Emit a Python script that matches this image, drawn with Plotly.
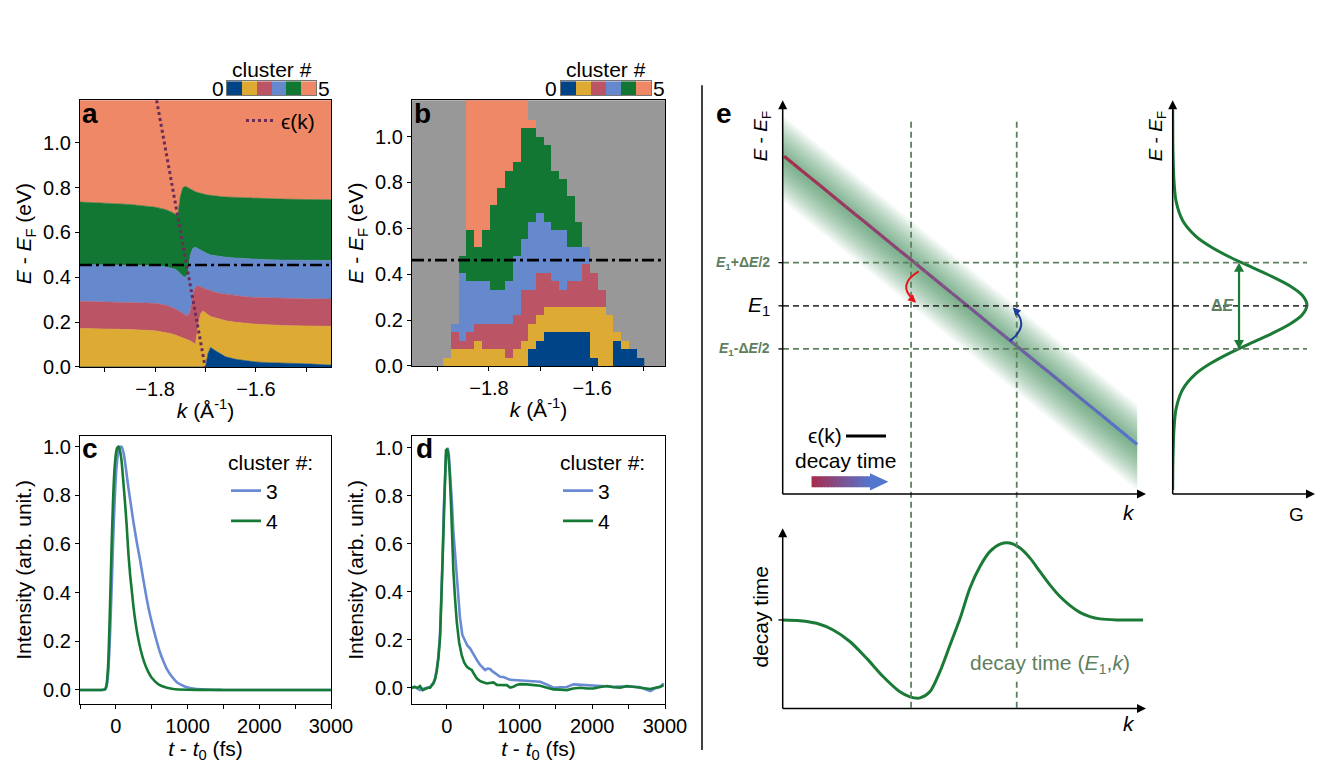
import numpy as np
import plotly.graph_objects as go

W, H = 1329, 779          # reference picture size: all positions below are given in its pixels
PAGE_W, PAGE_H = 1351, 792  # page size of the figure (photo is scaled to 1329x779)
FONT = "Liberation Sans, Arial, Helvetica, DejaVu Sans, sans-serif"

# ---------------------------------------------------------------- data
cluster_ids = [0, 1, 2, 3, 4, 5]
cluster_colors = ["#004488", "#DDAA33", "#BB5566", "#6688CC", "#117733", "#EE8866"]

# panel a : cluster boundaries (top edge of clusters 0..4) vs k
a_k = [-1.95, -1.90, -1.85, -1.80, -1.78, -1.77, -1.76, -1.755, -1.75, -1.745, -1.74, -1.735,
       -1.73, -1.725, -1.72, -1.715, -1.71, -1.705, -1.70, -1.695, -1.69, -1.68, -1.67, -1.66,
       -1.64, -1.62, -1.60, -1.575, -1.55, -1.50, -1.45]
a_top0 = [0, 0, 0, 0, 0, 0, 0, 0, 0, 0, 0, 0, 0, 0, 0, 0, 0, 0, 0,
          0.060, 0.087, 0.072, 0.057, 0.045, 0.034, 0.027, 0.022, 0.019, 0.018, 0.014, 0.008]
a_top1 = [0.172, 0.170, 0.167, 0.161, 0.154, 0.149, 0.142, 0.138, 0.134, 0.129, 0.124, 0.120,
          0.116, 0.109, 0.100, 0.176, 0.236, 0.250, 0.243, 0.233, 0.225, 0.218, 0.210, 0.206,
          0.199, 0.194, 0.191, 0.188, 0.185, 0.183, 0.181]
a_top2 = [0.293, 0.291, 0.288, 0.284, 0.276, 0.269, 0.258, 0.253, 0.248, 0.240, 0.233, 0.228,
          0.250, 0.325, 0.355, 0.363, 0.358, 0.352, 0.348, 0.344, 0.340, 0.333, 0.328, 0.325,
          0.318, 0.313, 0.310, 0.308, 0.306, 0.304, 0.303]
a_top3 = [0.457, 0.456, 0.455, 0.452, 0.447, 0.443, 0.436, 0.428, 0.418, 0.405, 0.400, 0.415,
          0.500, 0.530, 0.534, 0.528, 0.520, 0.514, 0.508, 0.504, 0.500, 0.496, 0.493, 0.490,
          0.486, 0.483, 0.480, 0.478, 0.477, 0.475, 0.475]
a_top4 = [0.736, 0.731, 0.725, 0.713, 0.703, 0.694, 0.680, 0.676, 0.760, 0.800, 0.806, 0.800,
          0.792, 0.787, 0.782, 0.778, 0.774, 0.771, 0.769, 0.767, 0.765, 0.762, 0.760, 0.758,
          0.756, 0.754, 0.751, 0.750, 0.749, 0.747, 0.746]
a_Emax = 1.19
eps_k = [-1.797, -1.7007]
eps_E = [1.19, 0.0]
a_cut = 0.455

# panel b : per k-column cumulative top row of clusters 0..5 (grey above)
b_k0, b_dk, b_dE = -1.8885, 0.015, 0.037
b_col_tops = [
    [0, 1, 1, 1, 1, 1], [0, 2, 4, 5, 5, 5], [0, 2, 3, 11, 13, 13], [0, 2, 4, 10, 16, 32],
    [0, 3, 5, 10, 14, 32], [0, 2, 5, 10, 16, 32], [0, 2, 5, 9, 19, 32], [0, 2, 5, 9, 21, 32],
    [0, 1, 5, 10, 23, 32], [0, 2, 6, 13, 24, 32], [0, 3, 9, 15, 28, 32], [2, 5, 9, 17, 28, 29],
    [3, 6, 11, 18, 27, 27], [4, 7, 11, 17, 26, 26], [4, 7, 10, 16, 23, 23], [4, 7, 9, 16, 22, 22],
    [4, 7, 10, 14, 20, 20], [4, 7, 10, 14, 17, 17], [4, 7, 12, 14, 14, 14], [1, 7, 11, 11, 11, 11],
    [0, 7, 9, 9, 9, 9], [0, 6, 6, 6, 6, 6], [3, 4, 4, 4, 4, 4], [2, 3, 3, 3, 3, 3],
    [2, 2, 2, 2, 2, 2], [1, 1, 1, 1, 1, 1]]
b_rows = 32
b_cut = 0.461

# panel c : fitted traces
c4_t = [-500, -200, -150, -130, -110, -100, -80, -60, -40, -20, 0, 20, 40, 60, 80, 100, 125, 150,
        175, 200, 225, 250, 300, 350, 400, 450, 500, 600, 700, 800, 1000, 1500, 3000]
c4_I = [0, 0, 0.003, 0.02, 0.09, 0.16, 0.36, 0.58, 0.77, 0.90, 0.97, 0.995, 1.0, 0.98, 0.94, 0.87,
        0.78, 0.68, 0.56, 0.47, 0.40, 0.33, 0.23, 0.16, 0.11, 0.075, 0.05, 0.022, 0.01, 0.004,
        0.001, 0, 0]
c3_t = [-500, -200, -150, -130, -110, -90, -70, -50, -30, -10, 10, 30, 50, 80, 110, 140, 175, 210,
        245, 290, 340, 385, 430, 475, 525, 570, 615, 660, 710, 780, 850, 920, 990, 1100, 1250,
        1500, 3000]
c3_I = [0, 0, 0.002, 0.015, 0.06, 0.16, 0.32, 0.50, 0.68, 0.82, 0.92, 0.97, 0.995, 1.0, 0.97, 0.91,
        0.83, 0.76, 0.69, 0.61, 0.53, 0.45, 0.375, 0.31, 0.25, 0.20, 0.155, 0.12, 0.087, 0.055,
        0.032, 0.02, 0.011, 0.005, 0.002, 0.0, 0.0]

# panel d : measured traces
d4_t = [-480, -440, -400, -367, -330, -300, -260, -229, -183, -160, -138, -115, -92, -75, -55, -40,
        -23, -10, 0, 10, 23, 40, 60, 75, 92, 115, 138, 170, 206, 240, 275, 310, 344, 380, 413,
        450, 482, 550, 600, 642, 690, 734, 780, 826, 872, 917, 960, 1009, 1101, 1200, 1284, 1380,
        1468, 1560, 1651, 1740, 1835, 1930, 2018, 2110, 2202, 2290, 2385, 2477, 2570, 2661,
        2730, 2798, 2870, 2936, 2980]
d4_I = [0.0, 0.003, 0.0, 0.007, -0.01, -0.005, 0.0, 0.0, 0.018, 0.035, 0.067, 0.12, 0.206, 0.35,
        0.554, 0.76, 0.944, 0.99, 0.993, 0.99, 0.97, 0.90, 0.76, 0.62, 0.485, 0.37, 0.276, 0.19,
        0.136, 0.105, 0.088, 0.08, 0.074, 0.055, 0.039, 0.03, 0.025, 0.018, 0.02, 0.022, 0.012,
        0.011, 0.012, 0.011, 0.001, 0.004, 0.012, 0.015, 0.014, 0.012, 0.008, 0.0, -0.007,
        -0.008, -0.01, -0.003, 0.0, -0.003, -0.003, 0.003, 0.007, 0.002, 0.0, 0.007, 0.003, 0.0,
        -0.003, -0.005, 0.0, 0.004, 0.011]
d3_t = [-480, -440, -400, -367, -330, -300, -260, -229, -183, -160, -138, -115, -92, -75, -55, -40,
        -23, -10, 0, 14, 30, 46, 70, 92, 115, 138, 160, 183, 215, 252, 285, 321, 355, 390, 425,
        459, 495, 528, 560, 596, 630, 665, 700, 734, 780, 826, 870, 917, 1000, 1101, 1200, 1284,
        1380, 1468, 1560, 1651, 1743, 1835, 1927, 2020, 2110, 2200, 2294, 2400, 2480, 2569,
        2650, 2720, 2798, 2870, 2936, 2982]
d3_I = [0.0, 0.004, -0.004, -0.01, -0.005, -0.003, 0.0, 0.003, 0.02, 0.04, 0.075, 0.13, 0.22, 0.36,
        0.56, 0.75, 0.92, 0.97, 0.98, 1.0, 0.97, 0.90, 0.78, 0.65, 0.55, 0.457, 0.37, 0.29, 0.22,
        0.192, 0.175, 0.164, 0.145, 0.13, 0.11, 0.095, 0.085, 0.074, 0.08, 0.078, 0.068, 0.06,
        0.052, 0.046, 0.045, 0.039, 0.033, 0.032, 0.03, 0.03, 0.028, 0.025, 0.013, 0.0, 0.002,
        0.003, 0.014, 0.012, 0.011, 0.009, 0.008, 0.006, 0.004, 0.005, 0.006, 0.004, 0.003,
        -0.004, -0.014, -0.002, 0.004, 0.018]

# panel e : schematic (arbitrary units)
e_line_k = [0.04, 9.83]
e_line_E = [8.65, 1.27]
e_E1, e_dE = 4.82, 2.21
e_k_marks = [3.56, 6.49]
e_decay_k = [0.0, 0.48, 0.94, 1.40, 1.87, 2.33, 2.79, 3.25, 3.53, 3.81, 4.08, 4.36, 4.64, 4.92,
             5.19, 5.47, 5.75, 6.03, 6.30, 6.58, 6.86, 7.13, 7.41, 7.69, 7.97, 8.24, 8.52, 8.80,
             9.26, 10.0]
e_decay_v = [5.0, 4.96, 4.81, 4.43, 3.77, 2.83, 1.79, 0.94, 0.66, 0.60, 0.94, 2.08, 3.58, 5.09,
             6.79, 8.02, 8.87, 9.28, 9.34, 9.06, 8.49, 7.74, 6.98, 6.32, 5.81, 5.43, 5.19, 5.06,
             5.0, 5.0]
g_E = [9.85, 9.0, 8.5, 8.0, 7.5, 7.0, 6.6, 6.34, 6.09, 5.84, 5.59, 5.34, 5.09, 4.84, 4.59, 4.34,
       4.09, 3.84, 3.59, 3.34, 3.08, 2.68, 2.18, 1.68, 1.18, 0.68, 0.1]
g_G = [0.0, 0.001, 0.004, 0.01, 0.025, 0.075, 0.173, 0.28, 0.413, 0.568, 0.727, 0.868, 0.965, 1.0,
       0.965, 0.868, 0.727, 0.568, 0.413, 0.28, 0.173, 0.075, 0.025, 0.01, 0.004, 0.001, 0.0]

# ---------------------------------------------------------------- geometry helpers (pixels)
def PX(x):
    return x / W


def PY(y):
    return 1 - y / H


# schematic axes: pixel position of data origin & scale
E_X0, E_XS = 782.7, 36.06      # k -> px
E_Y0, E_YS = 492.7, 38.94      # E -> py (main & G)
L_Y0, L_YS = 706.7, 17.67      # decay -> py (lower)
G_X0, G_XS = 1172.7, 134.26    # G -> px

GREEN = "#1a7a36"
DGREEN = "#5f8060"
C3 = "#6a8bd3"
C4 = "#157a35"
TS = 20   # tick label size
FS = 21   # title / text size

fig = go.Figure()

# ---------------- panel a (stacked regions)
base = [0.0] * len(a_k)
fig.add_trace(go.Scatter(x=a_k, y=base, mode="lines", line=dict(width=0), showlegend=False,
                         hoverinfo="skip", xaxis="x", yaxis="y"))
tops = [a_top0, a_top1, a_top2, a_top3, a_top4, [a_Emax] * len(a_k)]
for cid, top in zip(cluster_ids, tops):
    col = cluster_colors[cid]
    fig.add_trace(go.Scatter(x=a_k, y=top, mode="lines", fill="tonexty", fillcolor=col,
                             line=dict(width=0.6, color=col), showlegend=False, hoverinfo="skip",
                             xaxis="x", yaxis="y"))
fig.add_trace(go.Scatter(x=eps_k, y=eps_E, mode="lines", name="ϵ(k)",
                         line=dict(color="#6b2c58", width=3, dash="dot"),
                         showlegend=True, legend="legend", xaxis="x", yaxis="y"))

# ---------------- panel b (grid)
nb = len(b_col_tops)
zb = np.full((b_rows, nb), np.nan)
for c, tp in enumerate(b_col_tops):
    lo = 0
    for cid, hi in zip(cluster_ids, tp):
        zb[lo:hi, c] = cid
        lo = max(lo, hi)
bx = [b_k0 + b_dk * (i + 0.5) for i in range(nb)]
by = [b_dE * (j + 0.5) for j in range(b_rows)]
cs = []
for i, col in enumerate(cluster_colors):
    cs.append([i / 6, col])
    cs.append([(i + 1) / 6, col])
fig.add_trace(go.Heatmap(x=bx, y=by, z=zb, colorscale=cs, zmin=-0.5, zmax=5.5, showscale=False,
                         hoverongaps=False, xaxis="x2", yaxis="y2"))

# colour bars
for xa, ya in (("x8", "y8"), ("x9", "y9")):
    fig.add_trace(go.Heatmap(x=cluster_ids, y=[0], z=[cluster_ids], colorscale=cs, zmin=-0.5,
                             zmax=5.5, showscale=False, xaxis=xa, yaxis=ya, hoverinfo="skip"))

# ---------------- panel c / d
fig.add_trace(go.Scatter(x=c3_t, y=c3_I, mode="lines", name="3",
                         line=dict(color=C3, width=2.6, shape="spline", smoothing=0.6),
                         legend="legend2", xaxis="x3", yaxis="y3"))
fig.add_trace(go.Scatter(x=c4_t, y=c4_I, mode="lines", name="4",
                         line=dict(color=C4, width=2.6, shape="spline", smoothing=0.6),
                         legend="legend2", xaxis="x3", yaxis="y3"))
fig.add_trace(go.Scatter(x=d3_t, y=d3_I, mode="lines", name="3", line=dict(color=C3, width=2.6),
                         legend="legend3", xaxis="x4", yaxis="y4"))
fig.add_trace(go.Scatter(x=d4_t, y=d4_I, mode="lines", name="4", line=dict(color=C4, width=2.6),
                         legend="legend3", xaxis="x4", yaxis="y4"))

# ---------------- panel e main
slope = (e_line_E[1] - e_line_E[0]) / (e_line_k[1] - e_line_k[0])
kb = [0.0, e_line_k[1]]
Eb = [e_line_E[0] + slope * (k - e_line_k[0]) - 0.08 for k in kb]
for h in np.linspace(1.1, 0.06, 24):
    fig.add_trace(go.Scatter(x=[kb[0], kb[1], kb[1], kb[0], kb[0]],
                             y=[Eb[0] + h, Eb[1] + h, Eb[1] - h, Eb[0] - h, Eb[0] + h],
                             mode="lines", fill="toself", fillcolor="rgba(40,130,60,0.03)",
                             line=dict(width=0), showlegend=False, hoverinfo="skip",
                             xaxis="x5", yaxis="y5"))
cA = np.array([168, 44, 76])
cB = np.array([84, 118, 206])
nseg = 40
ks = np.linspace(e_line_k[0], e_line_k[1], nseg + 1)
Es = np.interp(ks, e_line_k, e_line_E)
for i in range(nseg):
    f = (i + 0.5) / nseg
    c = (cA * (1 - f) + cB * f).astype(int)
    fig.add_trace(go.Scatter(x=ks[i:i + 2], y=Es[i:i + 2], mode="lines",
                             line=dict(color=f"rgb({c[0]},{c[1]},{c[2]})", width=3.2),
                             showlegend=False, hoverinfo="skip", xaxis="x5", yaxis="y5"))

# lower schematic
fig.add_trace(go.Scatter(x=e_decay_k, y=e_decay_v, mode="lines",
                         line=dict(color=GREEN, width=3, shape="spline", smoothing=0.8),
                         showlegend=False, hoverinfo="skip", xaxis="x6", yaxis="y6"))
# gaussian
fig.add_trace(go.Scatter(x=g_G, y=g_E, mode="lines",
                         line=dict(color=GREEN, width=3, shape="spline", smoothing=0.8),
                         showlegend=False, hoverinfo="skip", xaxis="x7", yaxis="y7"))

# ---------------------------------------------------------------- axes
tickfont = dict(size=TS, family=FONT, color="black")
titlefont = dict(size=FS, family=FONT, color="black")
ax_common = dict(showgrid=False, zeroline=False, showline=True, linecolor="black", linewidth=1.3,
                 mirror=True, ticks="outside", ticklen=4, tickwidth=1.2, tickcolor="black",
                 tickfont=tickfont)
hid = dict(visible=False, fixedrange=True)

ktit = dict(text="<i>k</i> (Å<sup>-1</sup>)", font=titlefont, standoff=4)
Etit = dict(text="<i>E</i> - <i>E</i><sub>F</sub> (eV)", font=titlefont, standoff=5)
ttit = dict(text="<i>t</i> - <i>t</i><sub>0</sub> (fs)", font=titlefont, standoff=4)
Itit = dict(text="Intensity (arb. unit.)", font=titlefont, standoff=5)
k_major = [-1.8, -1.6]
k_major_txt = ["−1.8", "−1.6"]
k_minor = [-1.9, -1.7, -1.5]
Evals = [0, 0.2, 0.4, 0.6, 0.8, 1.0]
Etext = ["0.0", "0.2", "0.4", "0.6", "0.8", "1.0"]
t_major = [0, 1000, 2000, 3000]
t_minor = [-500, 500, 1500, 2500]
minor_k = dict(tickvals=k_minor, ticks="outside", ticklen=4, tickwidth=1.2, tickcolor="black")
minor_t = dict(tickvals=t_minor, ticks="outside", ticklen=4, tickwidth=1.2, tickcolor="black")
cb_ax = dict(showticklabels=False, ticks="", showgrid=False, zeroline=False, showline=True,
             mirror=True, linecolor="#777", linewidth=1, fixedrange=True)

layout = dict(
    width=PAGE_W, height=PAGE_H, margin=dict(l=0, r=0, t=0, b=0), autosize=False,
    paper_bgcolor="white", plot_bgcolor="rgba(0,0,0,0)",
    font=dict(family=FONT, size=FS, color="black"),
    xaxis=dict(ax_common, domain=[PX(80), PX(331)], range=[-1.949, -1.451], tickvals=k_major,
               ticktext=k_major_txt, minor=minor_k, title=ktit, anchor="y"),
    yaxis=dict(ax_common, domain=[PY(366), PY(100)], range=[0, a_Emax], tickvals=Evals,
               ticktext=Etext, title=Etit, anchor="x"),
    xaxis2=dict(ax_common, domain=[PX(412), PX(665)], range=[-1.949, -1.459], tickvals=k_major,
                ticktext=k_major_txt, minor=minor_k, title=ktit, anchor="y2"),
    yaxis2=dict(ax_common, domain=[PY(365), PY(100)], range=[0, 1.158], tickvals=Evals,
                ticktext=Etext, title=Etit, anchor="x2"),
    xaxis3=dict(ax_common, domain=[PX(80), PX(331)], range=[-500, 3000], tickvals=t_major,
                minor=minor_t, title=ttit, anchor="y3"),
    yaxis3=dict(ax_common, domain=[PY(702), PY(435)], range=[-0.057, 1.043], tickvals=Evals,
                ticktext=Etext, title=Itit, anchor="x3"),
    xaxis4=dict(ax_common, domain=[PX(412), PX(665)], range=[-477, 3000], tickvals=t_major,
                minor=minor_t, title=ttit, anchor="y4"),
    yaxis4=dict(ax_common, domain=[PY(702), PY(435)], range=[-0.067, 1.049], tickvals=Evals,
                ticktext=Etext, title=Itit, anchor="x4"),
    xaxis5=dict(hid, domain=[PX(E_X0), PX(E_X0 + 10 * E_XS)], range=[0, 10], anchor="y5"),
    yaxis5=dict(hid, domain=[PY(E_Y0), PY(E_Y0 - 10 * E_YS)], range=[0, 10], anchor="x5"),
    xaxis6=dict(hid, domain=[PX(E_X0), PX(E_X0 + 10 * E_XS)], range=[0, 10], anchor="y6"),
    yaxis6=dict(hid, domain=[PY(L_Y0), PY(L_Y0 - 10 * L_YS)], range=[0, 10], anchor="x6"),
    xaxis7=dict(hid, domain=[PX(G_X0), PX(G_X0 + 1.045 * G_XS)], range=[0, 1.045], anchor="y7"),
    yaxis7=dict(hid, domain=[PY(E_Y0), PY(E_Y0 - 10 * E_YS)], range=[0, 10], anchor="x7"),
    xaxis8=dict(cb_ax, domain=[PX(227), PX(316)], range=[-0.5, 5.5], anchor="y8"),
    yaxis8=dict(cb_ax, domain=[PY(95), PY(81)], range=[-0.5, 0.5], anchor="x8"),
    xaxis9=dict(cb_ax, domain=[PX(561), PX(651)], range=[-0.5, 5.5], anchor="y9"),
    yaxis9=dict(cb_ax, domain=[PY(95), PY(81)], range=[-0.5, 0.5], anchor="x9"),
    legend=dict(x=PX(241), y=PY(100), xanchor="left", yanchor="top", bgcolor="rgba(0,0,0,0)",
                font=dict(size=FS, family=FONT), itemwidth=30, tracegroupgap=0),
    legend2=dict(x=PX(226), y=PY(442), xanchor="left", yanchor="top", bgcolor="rgba(0,0,0,0)",
                 font=dict(size=FS, family=FONT),
                 title=dict(text="cluster #:", font=dict(size=FS, family=FONT))),
    legend3=dict(x=PX(558), y=PY(442), xanchor="left", yanchor="top", bgcolor="rgba(0,0,0,0)",
                 font=dict(size=FS, family=FONT),
                 title=dict(text="cluster #:", font=dict(size=FS, family=FONT))),
)
fig.update_layout(**layout)

# ---------------------------------------------------------------- shapes
shapes = []


def pline(x0, y0, x1, y1, color="black", width=1.5, dash=None):
    ln = dict(color=color, width=width)
    if dash:
        ln["dash"] = dash
    shapes.append(dict(type="line", xref="paper", yref="paper", x0=PX(x0), y0=PY(y0), x1=PX(x1),
                       y1=PY(y1), line=ln))


def head(tx, ty, dx, dy, L=9, w=4.5, color="black"):
    n = (dx * dx + dy * dy) ** 0.5
    ux, uy = dx / n, dy / n
    bx_, by_ = tx - ux * L, ty - uy * L
    px_, py_ = -uy * w, ux * w
    pts = [(tx, ty), (bx_ + px_, by_ + py_), (bx_ - px_, by_ - py_)]
    path = "M " + " L ".join(f"{PX(a):.5f},{PY(b):.5f}" for a, b in pts) + " Z"
    shapes.append(dict(type="path", xref="paper", yref="paper", path=path, fillcolor=color,
                       line=dict(width=0)))


def arrow_line(x0, y0, x1, y1, color="black", width=1.5, L=9, w=4.5):
    n = ((x1 - x0) ** 2 + (y1 - y0) ** 2) ** 0.5
    ux, uy = (x1 - x0) / n, (y1 - y0) / n
    pline(x0, y0, x1 - ux * (L - 1), y1 - uy * (L - 1), color, width)
    head(x1, y1, ux, uy, L, w, color)


# grey background of panel b
shapes.append(dict(type="rect", xref="x2 domain", yref="y2 domain", x0=0, x1=1, y0=0, y1=1,
                   fillcolor="#989898", line=dict(width=0), layer="below"))
# dash-dot cut lines
shapes.append(dict(type="line", xref="x domain", yref="y", x0=0, x1=1, y0=a_cut, y1=a_cut,
                   line=dict(color="black", width=2.6, dash="12px,4px,3px,4px")))
shapes.append(dict(type="line", xref="x2 domain", yref="y2", x0=0, x1=1, y0=b_cut, y1=b_cut,
                   line=dict(color="black", width=2.6, dash="12px,4px,3px,4px")))
# separator
pline(702, 85, 702, 748, width=1.5)
# vertical dashed lines (main + lower)
for km in e_k_marks:
    shapes.append(dict(type="line", xref="x5", yref="paper", x0=km, x1=km, y0=PY(706), y1=PY(120),
                       line=dict(color=DGREEN, width=1.8, dash="6px,4px")))
# horizontal dashed lines + small ticks
for Ev, colr in ((e_E1 + e_dE / 2, DGREEN), (e_E1, "#3c3c3c"), (e_E1 - e_dE / 2, DGREEN)):
    shapes.append(dict(type="line", xref="paper", yref="y5", x0=PX(783), x1=PX(1307), y0=Ev, y1=Ev,
                       line=dict(color=colr, width=1.8, dash="6px,4px")))
    shapes.append(dict(type="line", xref="paper", yref="y5", x0=PX(778.5), x1=PX(783), y0=Ev, y1=Ev,
                       line=dict(color="black", width=1.3)))
# schematic axes with arrow heads
arrow_line(E_X0, E_Y0, E_X0, 100)                  # main E axis
arrow_line(E_X0, E_Y0, 1146, E_Y0)                 # main k axis
arrow_line(E_X0, L_Y0, E_X0, 527)                  # lower decay axis
arrow_line(E_X0, L_Y0, 1146, L_Y0)                 # lower k axis
arrow_line(G_X0, E_Y0, G_X0, 100)                  # G panel E axis
arrow_line(G_X0, E_Y0, 1315, E_Y0)                 # G axis
# lower tick at decay level
pline(778.5, L_Y0 - 5.0 * L_YS, E_X0, L_Y0 - 5.0 * L_YS, width=1.3)
# delta-E double arrow
xg = G_X0 + 0.494 * G_XS
ytop = E_Y0 - (e_E1 + e_dE / 2) * E_YS
ybot = E_Y0 - (e_E1 - e_dE / 2) * E_YS
pline(xg, ytop + 7, xg, ybot - 7, color=GREEN, width=2.2)
head(xg, ytop, 0, -1, L=9, w=5, color=GREEN)
head(xg, ybot, 0, 1, L=9, w=5, color=GREEN)
# curved arrows (data coords of schematic)
shapes.append(dict(type="path", xref="x5", yref="y5", path="M 3.77,5.70 Q 3.15,5.35 3.64,4.97",
                   line=dict(color="#e8141c", width=2)))
head(E_X0 + 3.70 * E_XS, E_Y0 - 4.90 * E_YS, 18, 16, L=8, w=4, color="#e8141c")
shapes.append(dict(type="path", xref="x5", yref="y5", path="M 6.30,3.92 Q 6.85,4.30 6.44,4.70",
                   line=dict(color="#1c3c9c", width=2)))
head(E_X0 + 6.38 * E_XS, E_Y0 - 4.78 * E_YS, -16, -17, L=8, w=4, color="#1c3c9c")
# legend line for eps(k)
pline(846, 435, 886, 435, width=3)
# gradient arrow body + head
nb_ = 18
x_a0, x_a1, x_tip, y_ar = 0.80, 2.42, 2.93, 0.31
for i in range(nb_):
    f = (i + 0.5) / nb_
    c = (cA * (1 - f) + cB * f).astype(int)
    shapes.append(dict(type="line", xref="x5", yref="y5",
                       x0=x_a0 + (x_a1 - x_a0) * i / nb_,
                       x1=x_a0 + (x_a1 - x_a0) * (i + 1) / nb_ + 0.02,
                       y0=y_ar, y1=y_ar, line=dict(color=f"rgb({c[0]},{c[1]},{c[2]})", width=11)))
shapes.append(dict(type="path", xref="x5", yref="y5",
                   path=f"M {x_a1},{y_ar + 0.22} L {x_tip},{y_ar} L {x_a1},{y_ar - 0.22} Z",
                   fillcolor="rgb(84,118,206)", line=dict(width=0)))
fig.update_layout(shapes=shapes)

# ---------------------------------------------------------------- annotations
ann = []


def txt(x, y, s, size=FS, color="black", xanchor="center", yanchor="middle", angle=0, **kw):
    d = dict(x=x, y=y, xref=kw.pop("xref", "paper"), yref=kw.pop("yref", "paper"), text=s,
             showarrow=False, xanchor=xanchor, yanchor=yanchor, textangle=angle,
             font=dict(size=size, color=color, family=FONT))
    d.update(kw)
    ann.append(d)


# panel letters
txt(PX(90), PY(113), "<b>a</b>", size=28)
txt(PX(422), PY(113), "<b>b</b>", size=28)
txt(PX(90), PY(447), "<b>c</b>", size=28)
txt(PX(424), PY(447), "<b>d</b>", size=28)
txt(PX(724), PY(113), "<b>e</b>", size=28)
# colourbar labels
for x0_, x5_, xc in ((218, 324, 272), (551, 659, 606)):
    txt(PX(x0_), PY(88), "0", size=FS)
    txt(PX(x5_), PY(88), "5", size=FS)
    txt(PX(xc), PY(69), "cluster #", size=FS)

# schematic texts
txt(PX(762), PY(136), "<i>E</i> - <i>E</i><sub>F</sub>", size=19, angle=-90)
txt(PX(1157), PY(136), "<i>E</i> - <i>E</i><sub>F</sub>", size=19, angle=-90)
txt(PX(772), e_E1 + e_dE / 2, "<b><i>E</i><sub>1</sub>+Δ<i>E</i>/2</b>", size=14, color=DGREEN,
    xanchor="right", yref="y5")
txt(PX(772), e_E1, "<i>E</i><sub>1</sub>", size=21, xanchor="right", yref="y5")
txt(PX(772), e_E1 - e_dE / 2, "<b><i>E</i><sub>1</sub>-Δ<i>E</i>/2</b>", size=14, color=DGREEN,
    xanchor="right", yref="y5")
txt(PX(825), PY(434), "ϵ(k)", size=FS)
txt(PX(846), PY(459), "decay time", size=FS)
txt(PX(1129), PY(511), "<i>k</i>", size=FS)
txt(PX(1129), PY(722), "<i>k</i>", size=FS)
txt(PX(1296), PY(513), "G", size=19)
txt(PX(761), PY(615), "decay time", size=FS, angle=-90)
txt(PX(1050), PY(662), "decay time (<i>E</i><sub>1</sub>,<i>k</i>)", size=FS, color=DGREEN,
    bgcolor="white")
txt(PX(1237), e_E1, "<b>Δ<i>E</i></b>", size=16, color=DGREEN, xanchor="right", yref="y7")

fig.update_layout(annotations=ann)
post = ("document.documentElement.style.margin='0px';document.body.style.margin='0px';"
        "document.documentElement.style.overflow='hidden';document.body.style.overflow='hidden';")
fig.write_html("out.html", post_script=post, config={"displayModeBar": False})
